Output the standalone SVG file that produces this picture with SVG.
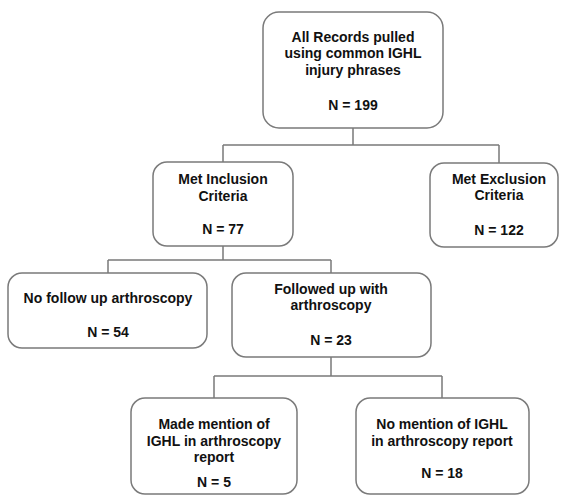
<svg xmlns="http://www.w3.org/2000/svg" width="564" height="497" viewBox="0 0 564 497">
<style>
.box{fill:#fff;stroke:#7a7a7a;stroke-width:1.5}
.conn{fill:none;stroke:#7a7a7a;stroke-width:1.5}
text{font-family:"Liberation Sans",Arial,sans-serif;font-weight:bold;font-size:14px;fill:#111;text-anchor:middle}
</style>
<rect width="564" height="497" fill="#fff"/>
<g id="connectors">
<path class="conn" d="M353 128V145M223 145H499M223 145V162M499 145V163"/>
<path class="conn" d="M223 246V260M108 260H331M108 260V273M331 260V273"/>
<path class="conn" d="M331 357V376M214 376H442M214 376V398M442 376V398"/>
</g>
<g id="n-all">
<rect class="box" x="263" y="12" width="180" height="116" rx="16"/>
<text x="353" y="42">All Records pulled</text>
<text x="353" y="58">using common IGHL</text>
<text x="353" y="75">injury phrases</text>
<text x="353" y="110">N = 199</text>
</g>
<g id="n-incl">
<rect class="box" x="153" y="162" width="140" height="84" rx="14"/>
<text x="223" y="184">Met Inclusion</text>
<text x="223" y="201">Criteria</text>
<text x="223" y="234">N = 77</text>
</g>
<g id="n-excl">
<rect class="box" x="430" y="163" width="128" height="84" rx="14"/>
<text x="499" y="184">Met Exclusion</text>
<text x="499" y="200">Criteria</text>
<text x="499" y="235">N = 122</text>
</g>
<g id="n-nofollow">
<rect class="box" x="8" y="273" width="199" height="75" rx="14"/>
<text x="108" y="303">No follow up arthroscopy</text>
<text x="108" y="337">N = 54</text>
</g>
<g id="n-followed">
<rect class="box" x="232" y="273" width="199" height="84" rx="14"/>
<text x="331" y="294">Followed up with</text>
<text x="331" y="310">arthroscopy</text>
<text x="331" y="345">N = 23</text>
</g>
<g id="n-mention">
<rect class="box" x="131" y="398" width="166" height="96" rx="14"/>
<text x="214" y="429">Made mention of</text>
<text x="214" y="446">IGHL in arthroscopy</text>
<text x="214" y="462">report</text>
<text x="214" y="487">N = 5</text>
</g>
<g id="n-nomention">
<rect class="box" x="356" y="398" width="173" height="96" rx="14"/>
<text x="442" y="429">No mention of IGHL</text>
<text x="442" y="446">in arthroscopy report</text>
<text x="442" y="478">N = 18</text>
</g>
</svg>
